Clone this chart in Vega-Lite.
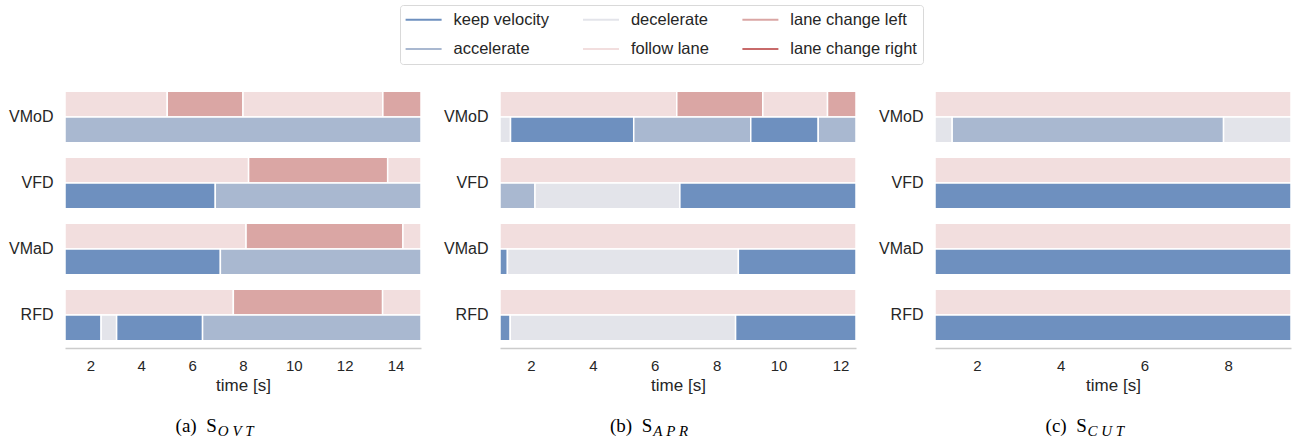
{
  "$schema": "https://vega.github.io/schema/vega-lite/v6.json",
  "padding": {"left": 8, "top": 4, "right": 5, "bottom": 5},
  "datasets": {
    "ovt": [
      {"method": "VMoD", "kind": "lateral", "action": "follow lane", "start": 1, "end": 5.02},
      {"method": "VMoD", "kind": "lateral", "action": "lane change left", "start": 5.02, "end": 8.0},
      {"method": "VMoD", "kind": "lateral", "action": "follow lane", "start": 8.0, "end": 13.5},
      {"method": "VMoD", "kind": "lateral", "action": "lane change left", "start": 13.5, "end": 15},
      {"method": "VMoD", "kind": "longitudinal", "action": "accelerate", "start": 1, "end": 15},
      {"method": "VFD", "kind": "lateral", "action": "follow lane", "start": 1, "end": 8.22},
      {"method": "VFD", "kind": "lateral", "action": "lane change left", "start": 8.22, "end": 13.69},
      {"method": "VFD", "kind": "lateral", "action": "follow lane", "start": 13.69, "end": 15},
      {"method": "VFD", "kind": "longitudinal", "action": "keep velocity", "start": 1, "end": 6.91},
      {"method": "VFD", "kind": "longitudinal", "action": "accelerate", "start": 6.91, "end": 15},
      {"method": "VMaD", "kind": "lateral", "action": "follow lane", "start": 1, "end": 8.12},
      {"method": "VMaD", "kind": "lateral", "action": "lane change left", "start": 8.12, "end": 14.29},
      {"method": "VMaD", "kind": "lateral", "action": "follow lane", "start": 14.29, "end": 15},
      {"method": "VMaD", "kind": "longitudinal", "action": "keep velocity", "start": 1, "end": 7.11},
      {"method": "VMaD", "kind": "longitudinal", "action": "accelerate", "start": 7.11, "end": 15},
      {"method": "RFD", "kind": "lateral", "action": "follow lane", "start": 1, "end": 7.62},
      {"method": "RFD", "kind": "lateral", "action": "lane change left", "start": 7.62, "end": 13.49},
      {"method": "RFD", "kind": "lateral", "action": "follow lane", "start": 13.49, "end": 15},
      {"method": "RFD", "kind": "longitudinal", "action": "keep velocity", "start": 1, "end": 2.42},
      {"method": "RFD", "kind": "longitudinal", "action": "decelerate", "start": 2.42, "end": 3.03},
      {"method": "RFD", "kind": "longitudinal", "action": "keep velocity", "start": 3.03, "end": 6.41},
      {"method": "RFD", "kind": "longitudinal", "action": "accelerate", "start": 6.41, "end": 15}
    ],
    "apr": [
      {"method": "VMoD", "kind": "lateral", "action": "follow lane", "start": 1, "end": 6.71},
      {"method": "VMoD", "kind": "lateral", "action": "lane change left", "start": 6.71, "end": 9.49},
      {"method": "VMoD", "kind": "lateral", "action": "follow lane", "start": 9.49, "end": 11.58},
      {"method": "VMoD", "kind": "lateral", "action": "lane change left", "start": 11.58, "end": 12.5},
      {"method": "VMoD", "kind": "longitudinal", "action": "decelerate", "start": 1, "end": 1.34},
      {"method": "VMoD", "kind": "longitudinal", "action": "keep velocity", "start": 1.34, "end": 5.32},
      {"method": "VMoD", "kind": "longitudinal", "action": "accelerate", "start": 5.32, "end": 9.1},
      {"method": "VMoD", "kind": "longitudinal", "action": "keep velocity", "start": 9.1, "end": 11.28},
      {"method": "VMoD", "kind": "longitudinal", "action": "accelerate", "start": 11.28, "end": 12.5},
      {"method": "VFD", "kind": "lateral", "action": "follow lane", "start": 1, "end": 12.5},
      {"method": "VFD", "kind": "longitudinal", "action": "accelerate", "start": 1, "end": 2.13},
      {"method": "VFD", "kind": "longitudinal", "action": "decelerate", "start": 2.13, "end": 6.81},
      {"method": "VFD", "kind": "longitudinal", "action": "keep velocity", "start": 6.81, "end": 12.5},
      {"method": "VMaD", "kind": "lateral", "action": "follow lane", "start": 1, "end": 12.5},
      {"method": "VMaD", "kind": "longitudinal", "action": "keep velocity", "start": 1, "end": 1.24},
      {"method": "VMaD", "kind": "longitudinal", "action": "decelerate", "start": 1.24, "end": 8.7},
      {"method": "VMaD", "kind": "longitudinal", "action": "keep velocity", "start": 8.7, "end": 12.5},
      {"method": "RFD", "kind": "lateral", "action": "follow lane", "start": 1, "end": 12.5},
      {"method": "RFD", "kind": "longitudinal", "action": "keep velocity", "start": 1, "end": 1.33},
      {"method": "RFD", "kind": "longitudinal", "action": "decelerate", "start": 1.33, "end": 8.61},
      {"method": "RFD", "kind": "longitudinal", "action": "keep velocity", "start": 8.61, "end": 12.5}
    ],
    "cut": [
      {"method": "VMoD", "kind": "lateral", "action": "follow lane", "start": 1, "end": 9.5},
      {"method": "VMoD", "kind": "longitudinal", "action": "decelerate", "start": 1, "end": 1.41},
      {"method": "VMoD", "kind": "longitudinal", "action": "accelerate", "start": 1.41, "end": 7.89},
      {"method": "VMoD", "kind": "longitudinal", "action": "decelerate", "start": 7.89, "end": 9.5},
      {"method": "VFD", "kind": "lateral", "action": "follow lane", "start": 1, "end": 9.5},
      {"method": "VFD", "kind": "longitudinal", "action": "keep velocity", "start": 1, "end": 9.5},
      {"method": "VMaD", "kind": "lateral", "action": "follow lane", "start": 1, "end": 9.5},
      {"method": "VMaD", "kind": "longitudinal", "action": "keep velocity", "start": 1, "end": 9.5},
      {"method": "RFD", "kind": "lateral", "action": "follow lane", "start": 1, "end": 9.5},
      {"method": "RFD", "kind": "longitudinal", "action": "keep velocity", "start": 1, "end": 9.5}
    ]
  },
  "spacing": 21,
  "resolve": {"scale": {"color": "shared"}},
  "hconcat": [
    {
      "data": {"name": "ovt"},
      "width": 356,
      "height": 264,
      "title": {"text": "(a)\u00a0\u00a0S\u00a0\u00a0\u00a0\u00a0\u00a0\u00a0\u00a0\u00a0\u200b", "subtitle": "\u200b\u00a0\u00a0\u00a0\u00a0\u00a0\u00a0\u00a0\u00a0\u00a0\u00a0\u00a0O\u2005V\u2005T"},
      "mark": {"type": "bar", "stroke": "white", "strokeWidth": 1.5},
      "encoding": {
        "x": {"field": "start", "type": "quantitative", "title": "time [s]", "scale": {"domain": [1, 15], "nice": false, "zero": false}, "axis": {"values": [2, 4, 6, 8, 10, 12, 14]}},
        "x2": {"field": "end"},
        "y": {"field": "method", "type": "nominal", "sort": ["VMoD", "VFD", "VMaD", "RFD"], "title": null, "scale": {"paddingInner": 0.22, "paddingOuter": 0.11}},
        "yOffset": {"field": "kind", "type": "nominal", "sort": ["lateral", "longitudinal"], "scale": {"paddingInner": 0, "paddingOuter": 0}},
        "color": {"field": "action", "type": "nominal", "scale": {"domain": ["keep velocity", "decelerate", "lane change left", "accelerate", "follow lane", "lane change right"], "range": ["#6e90bf", "#e3e4ea", "#daa6a4", "#a9b8d0", "#f2dede", "#c86a6a"]},
          "legend": {"title": null, "orient": "none", "legendX": 335, "legendY": -79, "columns": 3, "direction": "horizontal", "symbolType": "M-1,-0.11H3V0.11H-1Z", "symbolSize": 324, "symbolStrokeWidth": 0, "symbolStrokeColor": "transparent", "labelFont": "Liberation Sans", "labelFontSize": 16.5, "labelColor": "#262626", "labelOffset": 29.9, "columnPadding": 33.4, "rowPadding": 11.5, "padding": 5.6, "strokeColor": "#d9d9d9", "fillColor": "white", "cornerRadius": 3,
            "encode": {"symbols": {"update": {"fill": {"scale": "color", "field": "value"}, "strokeWidth": {"value": 0}, "opacity": {"value": 1}}}}}}
      }
    },
    {
      "data": {"name": "apr"},
      "width": 356,
      "height": 264,
      "title": {"text": "(b)\u00a0\u00a0S\u00a0\u00a0\u00a0\u00a0\u00a0\u00a0\u00a0\u00a0\u200b", "subtitle": "\u200b\u00a0\u00a0\u00a0\u00a0\u00a0\u00a0\u00a0\u00a0\u00a0\u00a0\u00a0A\u2005P\u2005R"},
      "mark": {"type": "bar", "stroke": "white", "strokeWidth": 1.5},
      "encoding": {
        "x": {"field": "start", "type": "quantitative", "title": "time [s]", "scale": {"domain": [1, 12.5], "nice": false, "zero": false}, "axis": {"values": [2, 4, 6, 8, 10, 12]}},
        "x2": {"field": "end"},
        "y": {"field": "method", "type": "nominal", "sort": ["VMoD", "VFD", "VMaD", "RFD"], "title": null, "scale": {"paddingInner": 0.22, "paddingOuter": 0.11}},
        "yOffset": {"field": "kind", "type": "nominal", "sort": ["lateral", "longitudinal"], "scale": {"paddingInner": 0, "paddingOuter": 0}},
        "color": {"field": "action", "type": "nominal"}
      }
    },
    {
      "data": {"name": "cut"},
      "width": 356,
      "height": 264,
      "title": {"text": "(c)\u00a0\u00a0S\u00a0\u00a0\u00a0\u00a0\u00a0\u00a0\u00a0\u00a0\u200b", "subtitle": "\u200b\u00a0\u00a0\u00a0\u00a0\u00a0\u00a0\u00a0\u00a0\u00a0\u00a0\u00a0C\u2005U\u2005T"},
      "mark": {"type": "bar", "stroke": "white", "strokeWidth": 1.5},
      "encoding": {
        "x": {"field": "start", "type": "quantitative", "title": "time [s]", "scale": {"domain": [1, 9.5], "nice": false, "zero": false}, "axis": {"values": [2, 4, 6, 8]}},
        "x2": {"field": "end"},
        "y": {"field": "method", "type": "nominal", "sort": ["VMoD", "VFD", "VMaD", "RFD"], "title": null, "scale": {"paddingInner": 0.22, "paddingOuter": 0.11}},
        "yOffset": {"field": "kind", "type": "nominal", "sort": ["lateral", "longitudinal"], "scale": {"paddingInner": 0, "paddingOuter": 0}},
        "color": {"field": "action", "type": "nominal"}
      }
    }
  ],
  "config": {
    "view": {"stroke": null},
    "font": "Liberation Sans",
    "axis": {"grid": false, "ticks": false, "labelFont": "Liberation Sans", "labelFontSize": 15, "labelColor": "#262626", "titleFont": "Liberation Sans", "titleFontSize": 17, "titleFontWeight": "normal", "titleColor": "#262626"},
    "axisX": {"domainColor": "#cccccc", "domainWidth": 1.5, "labelPadding": 10, "titlePadding": 4},
    "axisY": {"domain": false, "labelPadding": 12, "labelFontSize": 16},
    "title": {"orient": "bottom", "anchor": "middle", "frame": "bounds", "font": "Liberation Serif", "fontSize": 19, "fontWeight": "normal", "color": "#000000", "subtitleFont": "Liberation Serif", "subtitleFontSize": 15, "subtitleFontStyle": "italic", "subtitleColor": "#000000", "subtitlePadding": -12.5, "offset": 24}
  }
}
